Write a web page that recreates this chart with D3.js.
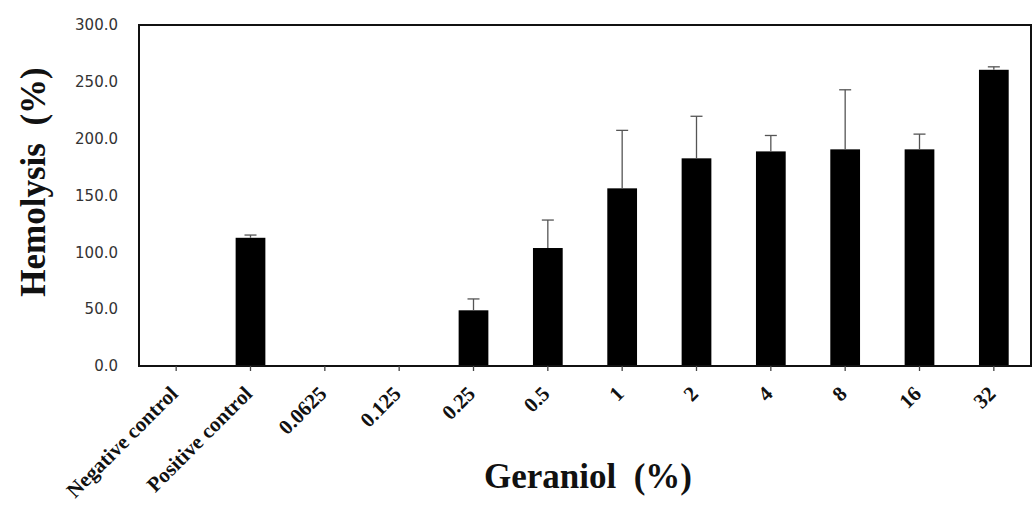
<!DOCTYPE html>
<html>
<head>
<meta charset="utf-8">
<script src="https://cdn.jsdelivr.net/npm/d3@7"></script>
<style>
  body { margin: 0; background: #fff; }
  .ytick text { font-family: "DejaVu Sans", sans-serif; font-size: 15px; fill: #333; }
  .xtick text { font-family: "Liberation Serif", "Times New Roman", serif; font-size: 21px; font-weight: bold; fill: #111; }
  .title { font-family: "Liberation Serif", "Times New Roman", serif; font-weight: bold; fill: #111; white-space: pre; }
</style>
</head>
<body>
<svg id="chart" width="1035" height="508"></svg>
<script>
var categories = ["Negative control", "Positive control", "0.0625", "0.125", "0.25", "0.5",
  "1", "2", "4", "8", "16", "32"];
var values = [0, 112.8, 0, 0, 49, 103.8, 156.3, 182.7, 188.8, 190.6, 190.6, 260.6];
var errors = [0, 2.4, 0, 0, 10, 24.6, 51, 37, 14, 52.4, 13.4, 2.6];
var yTicks = [0, 50, 100, 150, 200, 250, 300];

var svg = d3.select("#chart");
var plotLeft = 139, plotRight = 1031, plotTop = 25, plotBottom = 366;

var x = d3.scaleBand()
  .domain(categories)
  .range([plotLeft, plotRight])
  .paddingInner(0.6)
  .paddingOuter(0.3);

var y = d3.scaleLinear()
  .domain([0, 300])
  .range([plotBottom, plotTop]);

var mid = function(d) { return x(d) + x.bandwidth() / 2; };
var errTop = function(d) { var i = categories.indexOf(d); return y(values[i] + errors[i]); };

// bars
svg.selectAll("rect.bar")
  .data(categories)
  .enter().append("rect")
    .attr("class", "bar")
    .attr("x", function(d) { return x(d); })
    .attr("width", x.bandwidth())
    .attr("y", function(d, i) { return y(values[i]); })
    .attr("height", function(d, i) { return plotBottom - y(values[i]); })
    .attr("fill", "#000");

// error bars (upper only)
var err = svg.selectAll("g.err")
  .data(categories.filter(function(d, i) { return errors[i] > 0; }))
  .enter().append("g")
    .attr("class", "err")
    .attr("stroke", "#555")
    .attr("stroke-width", 1.3);

err.append("line")
  .attr("x1", mid)
  .attr("x2", mid)
  .attr("y1", function(d) { return y(values[categories.indexOf(d)]); })
  .attr("y2", errTop);

err.append("line")
  .attr("x1", function(d) { return mid(d) - 6; })
  .attr("x2", function(d) { return mid(d) + 6; })
  .attr("y1", errTop)
  .attr("y2", errTop);

// frame
svg.append("rect")
  .attr("x", plotLeft).attr("y", plotTop)
  .attr("width", plotRight - plotLeft).attr("height", plotBottom - plotTop)
  .attr("fill", "none")
  .attr("stroke", "#111")
  .attr("stroke-width", 2);

// y axis labels (no tick marks)
var yAxis = svg.append("g")
  .attr("class", "ytick")
  .attr("transform", "translate(" + plotLeft + ",0)")
  .call(d3.axisLeft(y).tickValues(yTicks).tickFormat(d3.format(".1f")).tickSize(0).tickPadding(21));
yAxis.select(".domain").remove();

// x axis ticks at band centers
var xAxis = svg.append("g")
  .attr("class", "xtick")
  .attr("transform", "translate(0," + plotBottom + ")")
  .call(d3.axisBottom(x).tickSize(5).tickSizeOuter(0));
xAxis.select(".domain").remove();
xAxis.selectAll("line").attr("stroke", "#444").attr("stroke-width", 1.3);
xAxis.selectAll("text")
  .attr("text-anchor", "end")
  .attr("dy", 0)
  .attr("y", 0)
  .attr("transform", "translate(3,29) rotate(-45)");

// titles
svg.append("text")
  .attr("class", "title")
  .attr("transform", "translate(45,182) rotate(-90)")
  .attr("text-anchor", "middle")
  .style("font-size", "35px")
  .text("Hemolysis  (%)");

svg.append("text")
  .attr("class", "title")
  .attr("x", 588).attr("y", 488)
  .attr("text-anchor", "middle")
  .style("font-size", "35px")
  .text("Geraniol  (%)");
</script>
</body>
</html>
